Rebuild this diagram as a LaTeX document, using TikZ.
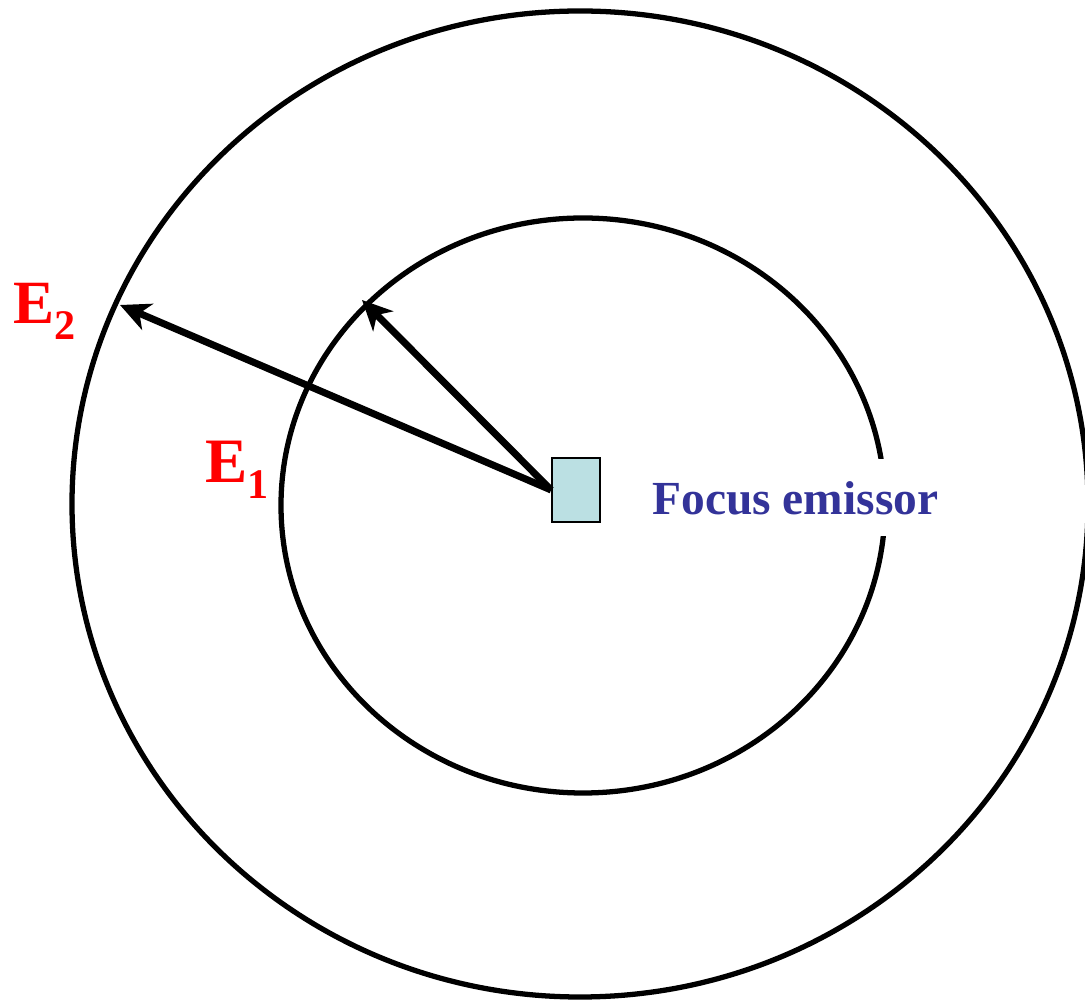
\documentclass[tikz,border=0pt]{standalone}
\usepackage{fontspec}
\setmainfont{Liberation Serif}
\usetikzlibrary{arrows.meta}
\definecolor{waveRed}{HTML}{FF0000}
\definecolor{waveBlue}{HTML}{333399}
\definecolor{srcCyan}{HTML}{BBE0E3}

\begin{document}
\begin{tikzpicture}[>={Stealth[length=17pt,width=16pt,inset=5pt]}]
\useasboundingbox (0,0) rectangle (21.7,20.06);
\draw[line width=3pt] (11.6,9.98) ellipse [x radius=10.16,y radius=9.86];
\draw[line width=3pt] (11.66,9.95) ellipse [x radius=6.04,y radius=5.75];
\node[draw,line width=1pt,fill=srcCyan,minimum width=0.96cm,minimum height=1.28cm,inner sep=0] (src) at (11.52,10.26) {};
\coordinate (t2) at (2.4,13.96);
\coordinate (t1) at (7.24,14.06);
\draw[->,line width=4pt] (src.west) -- (t2);
\draw[->,line width=4pt] (src.west) -- (t1);
\node[anchor=base west,inner sep=0,text=waveRed] (e2) at (0.26,13.58)
  {\fontsize{35}{40}\selectfont\bfseries E\raisebox{-9pt}{\fontsize{24}{28}\selectfont 2}};
\node[anchor=base west,inner sep=0,text=waveRed] (e1) at (4.1,10.4)
  {\fontsize{36}{40}\selectfont\bfseries E\raisebox{-9pt}{\fontsize{24}{28}\selectfont 1}};
\node[anchor=base west,inner xsep=0,inner ysep=12pt,text height=20pt,text depth=0pt,fill=white,text=waveBlue] (foc) at (13.04,9.76)
  {\fontsize{27}{32}\selectfont\bfseries Focus emissor};
\end{tikzpicture}
\end{document}
